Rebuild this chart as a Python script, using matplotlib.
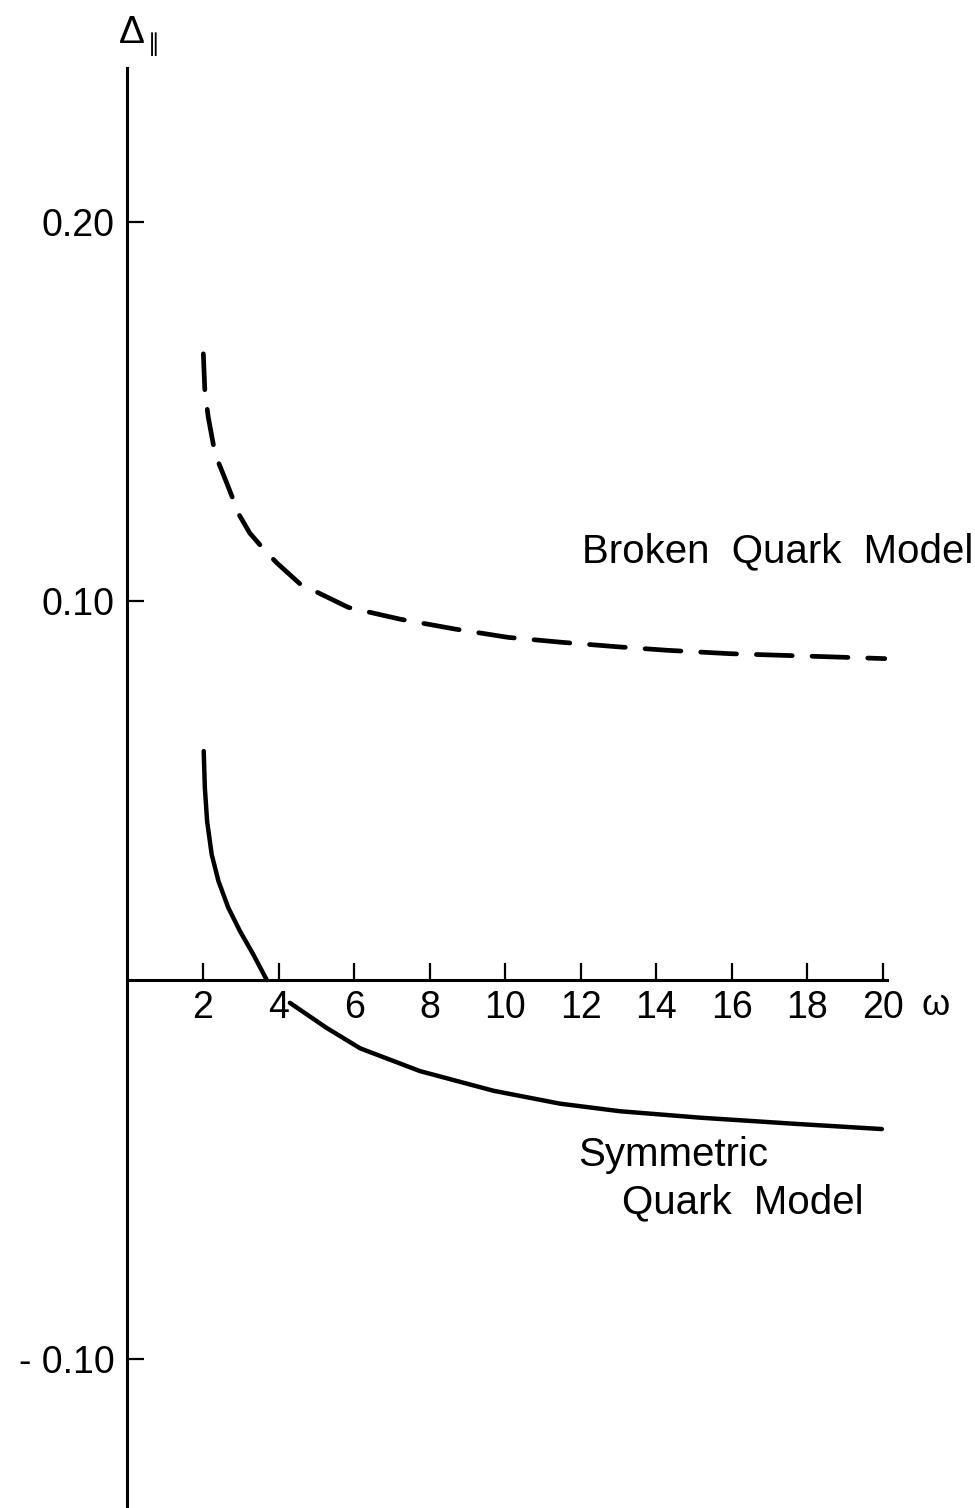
import matplotlib
matplotlib.use("Agg")
import matplotlib.pyplot as plt

# ---- data ----
omega_broken = [2.01, 2.05, 2.14, 2.32, 2.63, 2.96, 3.24, 3.64, 3.96, 4.57, 5.85,
                7.22, 8.67, 10.08, 11.50, 13.0, 14.28, 15.95, 18.5, 20.05]
delta_broken = [0.1652, 0.1555, 0.1485, 0.1388, 0.1311, 0.1227, 0.1179, 0.1133,
                0.1100, 0.1045, 0.0983, 0.0952, 0.0926, 0.0904, 0.0891, 0.0879,
                0.0870, 0.0861, 0.0853, 0.0848]

omega_sym_upper = [2.02, 2.05, 2.11, 2.23, 2.41, 2.67, 2.98, 3.33, 3.69]
delta_sym_upper = [0.0604, 0.0507, 0.0419, 0.0332, 0.0261, 0.0191, 0.0129, 0.0068, 0.0]

omega_sym_lower = [4.30, 5.27, 6.16, 7.74, 9.69, 11.45, 13.04, 15.16, 17.80, 19.97]
delta_sym_lower = [-0.0060, -0.0126, -0.0180, -0.0240, -0.0292, -0.0326,
                   -0.0346, -0.0363, -0.0380, -0.0393]

x_ticks = [2, 4, 6, 8, 10, 12, 14, 16, 18, 20]
x_ticklabels = ["2", "4", "6", "8", "10", "12", "14", "16", "18", "20"]
y_ticks = [-0.10, 0.10, 0.20]
y_ticklabels = ["- 0.10", "0.10", "0.20"]

label_broken = "Broken  Quark  Model"
label_sym_1 = "Symmetric"
label_sym_2 = "Quark  Model"

# ---- figure ----
plt.rcParams['font.family'] = ['Liberation Sans', 'DejaVu Sans']
W, H = 975, 1508
fig = plt.figure(figsize=(W / 100, H / 100), dpi=100)
ax = fig.add_axes([127.4 / W, 1 / H, 759.4 / W, 1439 / H])
ax.set_xlim(0, 20.1)
ax.set_ylim(-0.139, 0.2406)

for s in ("top", "right"):
    ax.spines[s].set_visible(False)
ax.spines["bottom"].set_position(("data", 0))
ax.spines["bottom"].set_linewidth(2.2)
ax.spines["left"].set_linewidth(2.2)

ax.set_xticks(x_ticks)
ax.set_xticklabels(x_ticklabels)
ax.set_yticks(y_ticks)
ax.set_yticklabels(y_ticklabels)
ax.tick_params(axis="both", direction="in", length=12, width=1.6, labelsize=27)
ax.tick_params(axis="x", pad=7)
ax.tick_params(axis="y", pad=9)

ax.plot(omega_broken, delta_broken, color="black", lw=3.4,
        dashes=(7.6, 4.2), dash_capstyle="round", solid_capstyle="round",
        solid_joinstyle="round", dash_joinstyle="round")
ax.plot(omega_sym_upper, delta_sym_upper, color="black", lw=3.2,
        solid_capstyle="round", solid_joinstyle="round")
ax.plot(omega_sym_lower, delta_sym_lower, color="black", lw=3.2,
        solid_capstyle="round", solid_joinstyle="round")

ax.text(12.03, 0.1103, label_broken, fontsize=29, ha="left", va="baseline")
ax.text(11.93, -0.0491, label_sym_1, fontsize=29, ha="left", va="baseline")
ax.text(13.09, -0.0615, label_sym_2, fontsize=29, ha="left", va="baseline")

ax.text(21.4, -0.0092, "ω", fontsize=26, ha="center", va="baseline", clip_on=False)
ax.text(0.11, 0.2472, "Δ", fontsize=28, ha="center", va="baseline", clip_on=False)
ax.text(0.70, 0.2470, "∥", fontsize=17, ha="center", va="center", clip_on=False,
        family=["DejaVu Sans"])

fig.savefig("out.png", dpi=100)
